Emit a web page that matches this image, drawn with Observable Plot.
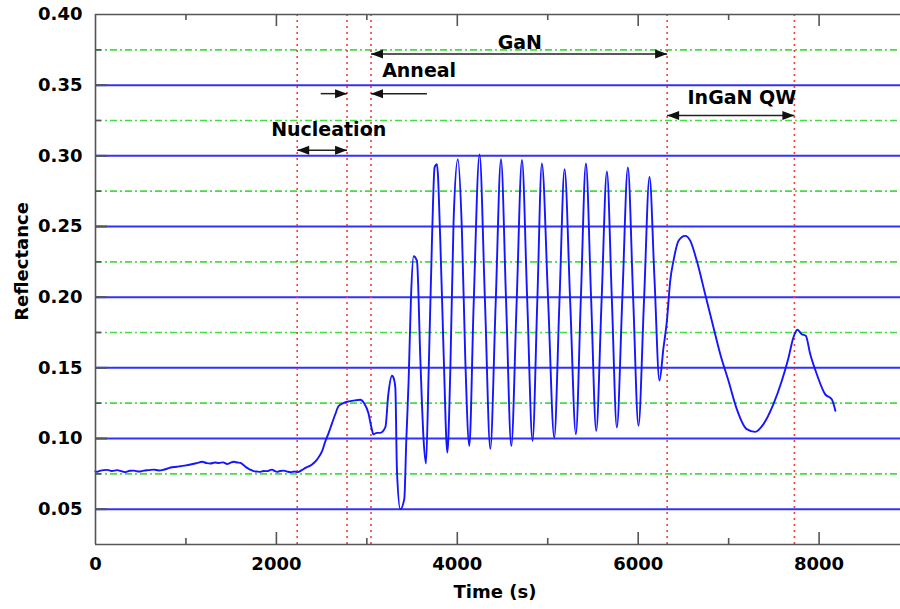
<!DOCTYPE html>
<html>
<head>
<meta charset="utf-8">
<script src="https://cdn.jsdelivr.net/npm/d3@7"></script>
<script src="https://cdn.jsdelivr.net/npm/@observablehq/plot@0.6"></script>
<style>
  html, body { margin: 0; padding: 0; background: #fff; }
  #chart svg { display: block; }
</style>
</head>
<body>
<div id="chart"></div>
<script>
// ---- data ----
const timeS = [
  0, 18, 55, 129, 180, 240, 290, 331, 380, 424, 480, 534, 590, 645, 700, 737, 790, 847, 900, 939,
  1000, 1050, 1120, 1179, 1230, 1271, 1320, 1363, 1410, 1455, 1490, 1528, 1570, 1602, 1640, 1676, 1710, 1749, 1790, 1823,
  1860, 1897, 1930, 1952, 1980, 2007, 2040, 2081, 2120, 2155, 2200, 2236, 2280, 2320, 2394, 2449, 2505, 2541, 2578, 2600,
  2650, 2688, 2740, 2781, 2850, 2928, 2970, 3017, 3050, 3072, 3110, 3149, 3205, 3237, 3278, 3300, 3315, 3333, 3370, 3414,
  3436, 3462, 3488, 3517, 3554, 3591, 3628, 3654, 3683, 3720, 3749, 3775, 3812, 3849, 3890, 3922, 3959, 4006, 4051, 4088,
  4133, 4180, 4246, 4306, 4365, 4424, 4483, 4540, 4597, 4656, 4715, 4773, 4832, 4884, 4935, 5004, 5072, 5129, 5186, 5248,
  5311, 5366, 5422, 5479, 5536, 5595, 5654, 5709, 5764, 5825, 5886, 5944, 6003, 6064, 6125, 6180, 6235, 6280, 6317, 6354,
  6390, 6446, 6519, 6575, 6648, 6740, 6814, 6906, 6998, 7090, 7200, 7293, 7385, 7495, 7588, 7661, 7716, 7760, 7808, 7853,
  7901, 7974, 8066, 8140, 8180
];
const reflectance = [
  0.0768, 0.0764, 0.0773, 0.0778, 0.0770, 0.0776, 0.0768, 0.0762, 0.0772, 0.0773, 0.0766, 0.0773, 0.0776, 0.0780, 0.0774, 0.0776, 0.0786, 0.0797, 0.0800, 0.0804,
  0.0810, 0.0816, 0.0826, 0.0835, 0.0826, 0.0823, 0.0830, 0.0827, 0.0831, 0.0820, 0.0828, 0.0835, 0.0830, 0.0827, 0.0810, 0.0792, 0.0780, 0.0769, 0.0766, 0.0764,
  0.0770, 0.0769, 0.0776, 0.0780, 0.0770, 0.0764, 0.0770, 0.0773, 0.0766, 0.0762, 0.0766, 0.0762, 0.0776, 0.0792, 0.0816, 0.0851, 0.0910, 0.0980, 0.1040, 0.1080,
  0.1170, 0.1230, 0.1250, 0.1260, 0.1268, 0.1274, 0.1250, 0.1180, 0.1080, 0.1030, 0.1040, 0.1040, 0.1080, 0.1310, 0.1444, 0.1420, 0.1360, 0.0770, 0.0500, 0.0573,
  0.0984, 0.1410, 0.2000, 0.2290, 0.2257, 0.1570, 0.0984, 0.0823, 0.1460, 0.2400, 0.2918, 0.2940, 0.2400, 0.1600, 0.0900, 0.1460, 0.2540, 0.2976, 0.2470, 0.1570,
  0.0948, 0.1930, 0.3010, 0.1970, 0.0927, 0.1950, 0.2976, 0.1960, 0.0948, 0.1960, 0.2970, 0.1980, 0.0984, 0.1960, 0.2946, 0.1980, 0.1007, 0.1960, 0.2906, 0.1970,
  0.1030, 0.1990, 0.2946, 0.2000, 0.1054, 0.1970, 0.2890, 0.1980, 0.1078, 0.2000, 0.2918, 0.2000, 0.1090, 0.1970, 0.2851, 0.2130, 0.1410, 0.1644, 0.1830, 0.2116,
  0.2257, 0.2399, 0.2434, 0.2400, 0.2257, 0.2022, 0.1833, 0.1600, 0.1408, 0.1208, 0.1066, 0.1047, 0.1102, 0.1243, 0.1408, 0.1570, 0.1715, 0.1769, 0.1738, 0.1727,
  0.1600, 0.1456, 0.1314, 0.1278, 0.1196
];

const xTickLabels = [0, 2000, 4000, 6000, 8000];
const xMajorTicks = [2000, 4000, 6000, 8000];
const xMinorTicks = [1000, 3000, 5000, 7000];
const yTickLabels = [0.05, 0.10, 0.15, 0.20, 0.25, 0.30, 0.35, 0.40];
const yMajorGrid = [0.05, 0.10, 0.15, 0.20, 0.25, 0.30, 0.35];
const yMinorGrid = [0.075, 0.125, 0.175, 0.225, 0.275, 0.325, 0.375];

const phaseBounds = [2230, 2781, 3046, 6320, 7727];

const annotLabels = ["GaN", "Anneal", "Nucleation", "InGaN QW"];
const annotX = [4691, 3578, 2578, 7146];
const annotY = [0.3802, 0.3601, 0.3180, 0.3413];

const spanX1 = [3046, 2490, 3046, 2230, 6320];
const spanX2 = [6320, 2781, 3664, 2781, 7727];
const spanY = [0.372, 0.344, 0.344, 0.304, 0.3286];

const headX = [3046, 6320, 2781, 3046, 2230, 2781, 6320, 7727];
const headY = [0.372, 0.372, 0.344, 0.344, 0.304, 0.304, 0.3286, 0.3286];
const headDir = ["left", "right", "right", "left", "left", "right", "left", "right"];

// ---- build tables ----
const series = timeS.map((t, i) => ({t, r: reflectance[i]}));
const annots = annotLabels.map((s, i) => ({s, x: annotX[i], y: annotY[i]}));
const spans = spanX1.map((x1, i) => ({x1, x2: spanX2[i], y: spanY[i]}));
const heads = headX.map((x, i) => ({x, y: headY[i], dir: headDir[i]}));

const headRight = {draw(ctx) { ctx.moveTo(0, 0); ctx.lineTo(-12, -4.5); ctx.lineTo(-12, 4.5); ctx.closePath(); }};
const headLeft = {draw(ctx) { ctx.moveTo(0, 0); ctx.lineTo(12, -4.5); ctx.lineTo(12, 4.5); ctx.closePath(); }};

const W = 900, H = 609, ML = 95, MR = 0, MT = 14, MB = 65;
const PW = W - ML - MR, PH = H - MT - MB;
const axisColor = "#555";

const chart = Plot.plot({
  width: W, height: H,
  marginLeft: ML, marginRight: MR, marginTop: MT, marginBottom: MB,
  x: {domain: [0, 8900], label: null},
  y: {domain: [0.025, 0.40], label: null},
  style: {fontFamily: "'DejaVu Sans', sans-serif", fontSize: "18px", fontWeight: "bold", background: "#fff", color: "#000"},
  marks: [
    Plot.ruleY(yMajorGrid, {stroke: "#3030ff", strokeWidth: 2}),
    Plot.ruleY(yMinorGrid, {stroke: "#40e040", strokeWidth: 1.6, strokeDasharray: "7,3,2,3"}),
    Plot.ruleX(phaseBounds, {stroke: "#ff3a3a", strokeWidth: 1.6, strokeDasharray: "2,4"}),
    Plot.line(series, {x: "t", y: "r", stroke: "#1515ff", strokeWidth: 1.9, curve: "monotone-x"}),
    // frame
    Plot.ruleY([0.40], {stroke: axisColor, strokeWidth: 1.6}),
    Plot.ruleY([0.025], {stroke: axisColor, strokeWidth: 1.6}),
    Plot.ruleX([0], {stroke: axisColor, strokeWidth: 1.6}),
    // inward tick marks
    Plot.ruleX(xMajorTicks, {insetTop: PH - 12, stroke: axisColor, strokeWidth: 1.6}),
    Plot.ruleX(xMajorTicks, {insetBottom: PH - 12, stroke: axisColor, strokeWidth: 1.6}),
    Plot.ruleX(xMinorTicks, {insetTop: PH - 6, stroke: axisColor, strokeWidth: 1.6}),
    Plot.ruleX(xMinorTicks, {insetBottom: PH - 6, stroke: axisColor, strokeWidth: 1.6}),
    Plot.ruleY(yMajorGrid, {insetRight: PW - 12, stroke: axisColor, strokeWidth: 2}),
    Plot.ruleY(yMinorGrid, {insetRight: PW - 6, stroke: axisColor, strokeWidth: 1.6}),
    // axes labels
    Plot.axisX({ticks: xTickLabels, tickSize: 0, tickPadding: 13, tickFormat: "d", label: null}),
    Plot.axisY({ticks: yTickLabels, tickSize: 0, tickPadding: 13, tickFormat: ".2f", label: null}),
    Plot.text(["Time (s)"], {frameAnchor: "bottom", textAnchor: "middle", lineAnchor: "middle", dy: 48, dx: -3, fontSize: 18, fontWeight: "bold"}),
    Plot.text(["Reflectance"], {frameAnchor: "left", textAnchor: "middle", lineAnchor: "middle", rotate: -90, dx: -73, dy: -18, fontSize: 18, fontWeight: "bold"}),
    // annotations
    Plot.link(spans, {x1: "x1", x2: "x2", y1: "y", y2: "y", stroke: "#222", strokeWidth: 1.5}),
    Plot.dot(heads.filter(d => d.dir === "right"), {x: "x", y: "y", symbol: headRight, r: 4, fill: "#111", stroke: "none"}),
    Plot.dot(heads.filter(d => d.dir === "left"), {x: "x", y: "y", symbol: headLeft, r: 4, fill: "#111", stroke: "none"}),
    Plot.text(annots, {x: "x", y: "y", text: "s", fontSize: 19, fontWeight: "bold", fill: "#000"})
  ]
});
document.getElementById("chart").append(chart);
</script>
</body>
</html>
